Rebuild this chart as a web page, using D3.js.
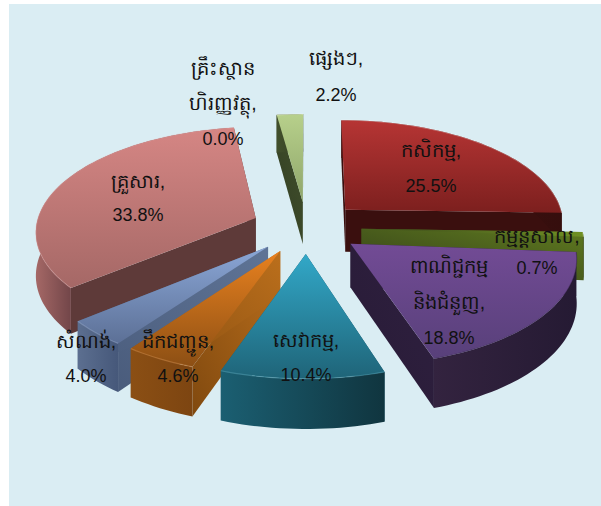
<!DOCTYPE html>
<html>
<head>
<meta charset="utf-8">
<script src="https://cdn.jsdelivr.net/npm/d3@7"></script>
<style>
  html, body { margin: 0; padding: 0; background: #fff; }
  text { font-family: "Liberation Sans", "Noto Sans", sans-serif; fill: #111; text-anchor: middle; }
  text.name { font-size: 19.5px; }
  text.val { font-size: 18px; }
</style>
</head>
<body>
<div id="chart"></div>
<script>
var width = 601;
var height = 506;

// values in the order they go round the pie, clockwise from 12 o'clock
var categories = ["agri", "mining", "industry", "service", "transport", "construction", "household", "finance", "other"];
var values = [25.5, 0.7, 18.8, 10.4, 4.6, 4.0, 33.8, 0.0, 2.2];
var valueLabels = ["25.5%", "0.7%", "18.8%", "10.4%", "4.6%", "4.0%", "33.8%", "0.0%", "2.2%"];
var nameLines = [
    ["កសិកម្ម,"],
    ["កម្មន្តសាល,"],
    ["ពាណិជ្ជកម្ម", "និងជំនួញ,"],
    ["សេវាកម្ម,"],
    ["ដឹកជញ្ជូន,"],
    ["សំណង់,"],
    ["គ្រួសារ,"],
    ["គ្រឹះស្ថាន", "ហិរញ្ញវត្ថុ,"],
    ["ផ្សេងៗ,"]
];

// colours per slice
var topFrom = ["#b63534", "#39461a", "#724b95", "#32a8c8", "#e8811f", "#8ba7d7", "#d58684", "#000000", "#b7d08b"];
var topTo = ["#7c1f1e", "#6f9024", "#58407a", "#1f6478", "#8c4f14", "#5c7096", "#a56866", "#000000", "#8fa56a"];
var faceFrom = ["#3a0f0e", "#5f7a20", "#2f2040", "#1a5567", "#bb6f1c", "#5f7496", "#5e3a39", "#000000", "#414f2b"];
var faceTo = ["#3a0f0e", "#333f18", "#281b36", "#1a5567", "#80490f", "#4a5c7c", "#5e3a39", "#000000", "#333f24"];
var wallFrom = ["#4a1211", "#4f621a", "#33233f", "#1b5f72", "#8b4f14", "#5c6f90", "#a56866", "#000000", "#414f2b"];
var wallTo = ["#350e0d", "#39461a", "#251a33", "#10353f", "#7d4511", "#46587a", "#74474a", "#000000", "#333f24"];
var rimCol = ["#ffffff", "#ffffff", "#2c1e3b", "#7fd0e4", "#f5b070", "#b5c8e8", "#e8aaa8", "#000000", "#ffffff"];

// label layout, one centre x and one baseline y per line
var labelX = [431, 537, 449, 306, 178, 86, 138, 223, 336];
var labelY = [[157, 192], [243, 274], [273, 309, 344], [347, 381], [348, 382], [348, 382], [188, 221], [75, 110, 145], [65, 101]];

var explode = 0.25;   // how far slices are pulled out, in pie radii
var persp = 0.115;    // perspective falloff towards the back
var depth = 43;       // thickness of the pie in px

var sx = d3.scaleLinear().domain([0, 1]).range([306.5, 306.5 + 220]);
var sy = d3.scaleLinear().domain([0, 1]).range([227.4, 227.4 - 103.7]);

function project(x, y, low) {
    var w = 1 + persp * y;
    return [sx(x / w), sy(y / w) + (low ? depth / w : 0)];
}

var pie = d3.pie().sort(null).value(function(d){ return d; }).startAngle(0).endAngle(2 * Math.PI);
var arcs = pie(values);

var slices = arcs.map(function(a, i){
    var mid = (a.startAngle + a.endAngle) / 2;
    return {
        i: i,
        a: a,
        ox: Math.sin(mid) * explode,
        oy: Math.cos(mid) * explode
    };
});

var line = d3.line();

function rimPoints(s, low) {
    var n = Math.max(2, Math.ceil((s.a.endAngle - s.a.startAngle) / 0.03));
    return d3.range(n + 1).map(function(k){
        var t = s.a.startAngle + (s.a.endAngle - s.a.startAngle) * k / n;
        return project(s.ox + Math.sin(t), s.oy + Math.cos(t), low);
    });
}

function addGradient(defs, id, from, to, x1, y1, x2, y2) {
    var grad = defs.append("linearGradient")
        .attr("id", id)
        .attr("x1", x1).attr("y1", y1).attr("x2", x2).attr("y2", y2);
    grad.append("stop").attr("offset", 0).attr("stop-color", from);
    grad.append("stop").attr("offset", 1).attr("stop-color", to);
}

var svg = d3.select("#chart")
    .append("svg")
    .attr("width", width)
    .attr("height", height)
    .style("display", "block");

svg.append("rect")
    .attr("x", 9)
    .attr("y", 4)
    .attr("width", width - 9)
    .attr("height", height - 4)
    .attr("fill", "#daedf3");

var defs = svg.append("defs");

// back slices first so the front ones paint over them
var order = slices.filter(function(s){ return s.a.value > 0; })
    .sort(function(p, q){ return q.oy - p.oy; });

order.forEach(function(s){
    var i = s.i;
    // mining is a thin strip, it brightens sideways. household only shows the start of its wall
    if(categories[i] == "mining"){
        addGradient(defs, "top" + i, topFrom[i], topTo[i], 0, 0, 1, 0);
    }else{
        addGradient(defs, "top" + i, topFrom[i], topTo[i], 0, 0, 0, 1);
    }
    addGradient(defs, "wall" + i, wallFrom[i], wallTo[i], 0, 0, categories[i] == "household" ? 0.17 : 1, 0);
    addGradient(defs, "face" + i, faceFrom[i], faceTo[i], 1, 0, 0, 1);

    var g = svg.append("g").attr("class", categories[i]);
    var apexTop = project(s.ox, s.oy, false);
    var apexLow = project(s.ox, s.oy, true);
    var upper = rimPoints(s, false);
    var lower = rimPoints(s, true);

    // the two cut faces
    [upper[0], upper[upper.length - 1]].forEach(function(c, k){
        var cLow = k == 0 ? lower[0] : lower[lower.length - 1];
        g.append("path")
            .attr("d", line([apexTop, c, cLow, apexLow]) + "Z")
            .attr("fill", "url(#face" + i + ")");
    });

    // outer wall
    g.append("path")
        .attr("d", line(upper.concat(lower.slice().reverse())) + "Z")
        .attr("fill", "url(#wall" + i + ")");

    // top surface
    g.append("path")
        .attr("d", line([apexTop].concat(upper)) + "Z")
        .attr("fill", "url(#top" + i + ")");

    // bevel along the rim
    g.append("path")
        .attr("d", line(upper))
        .attr("fill", "none")
        .attr("stroke", rimCol[i])
        .attr("stroke-opacity", 0.3)
        .attr("stroke-width", 1.2);
});

categories.forEach(function(c, i){
    var names = nameLines[i];
    var lines = names.concat([valueLabels[i]]);
    svg.append("g")
        .attr("class", "label-" + c)
        .selectAll("text")
        .data(lines)
        .enter()
        .append("text")
        .attr("class", function(d, k){ return k < names.length ? "name" : "val"; })
        .attr("x", labelX[i])
        .attr("y", function(d, k){ return labelY[i][k]; })
        .text(function(d){ return d; });
});
</script>
</body>
</html>
